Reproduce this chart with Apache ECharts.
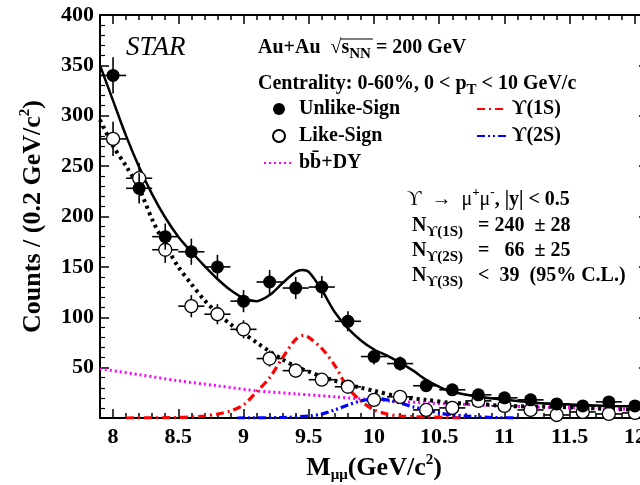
<!DOCTYPE html>
<html>
<head>
<meta charset="utf-8" />
<title>Upsilon mass spectrum</title>
<script src="https://cdn.jsdelivr.net/npm/echarts@6/dist/echarts.min.js"></script>
<style>
  html, body { margin: 0; padding: 0; background: #fff; }
  #main { width: 640px; height: 485px; }
</style>
</head>
<body>
<div id="main"></div>
<script type="text/javascript">
// bin centres (GeV/c^2), 0.2 GeV wide
var massBins = [8.0, 8.2, 8.4, 8.6, 8.8, 9.0, 9.2, 9.4, 9.6, 9.8, 10.0, 10.2, 10.4, 10.6, 10.8, 11.0, 11.2, 11.4, 11.6, 11.8, 12.0];
var unlikeCounts = [340, 228, 180, 165, 150, 116, 135, 129, 130, 96, 61, 54, 32, 28, 23, 20, 18, 14, 12, 16, 12];
var unlikeErr = [18, 15, 13, 13, 12, 11, 12, 11, 11, 10, 8, 7, 6, 5, 5, 4, 4, 4, 3, 4, 3];
var likeCounts = [277, 238, 167, 111, 103, 88, 59, 47, 38, 31, 18, 21, 8, 10, 17, 12, 8, 3, 6, 4, 5];
var likeErr = [17, 15, 13, 11, 10, 9, 8, 7, 6, 6, 4, 5, 3, 3, 4, 4, 3, 2, 2, 2, 2];

// fitted curves as [mass, counts]
var unlikeFit = [[7.9, 350], [8.0, 315], [8.1, 280], [8.2, 249], [8.3, 222], [8.4, 199], [8.5, 180], [8.6, 165],
  [8.7, 151], [8.8, 138], [8.9, 127], [9.0, 119], [9.1, 116], [9.2, 122], [9.3, 134], [9.4, 145], [9.45, 147],
  [9.5, 145], [9.6, 127], [9.7, 105], [9.8, 89], [9.9, 77], [10.0, 68], [10.1, 62], [10.2, 55], [10.3, 47],
  [10.4, 38], [10.5, 31], [10.6, 26], [10.8, 21], [11.0, 18], [11.2, 15.5], [11.4, 14], [11.6, 13], [11.8, 12], [12.1, 11]];
var likeFit = [[7.9, 296], [8.0, 270], [8.1, 250], [8.2, 228], [8.3, 197], [8.4, 172], [8.5, 150], [8.6, 133],
  [8.7, 117], [8.8, 104], [8.9, 93], [9.0, 84], [9.1, 75], [9.2, 66], [9.3, 58], [9.4, 51], [9.5, 46], [9.6, 41],
  [9.7, 37], [9.8, 33], [9.9, 30], [10.0, 27], [10.2, 21], [10.4, 18], [10.6, 15], [10.8, 14], [11.0, 12],
  [11.4, 11], [11.8, 9], [12.1, 8]];
var bbDY = [[7.9, 49], [8.2, 43], [8.5, 37], [8.8, 32], [9.1, 27], [9.4, 24], [9.7, 21], [10.0, 18], [10.4, 15],
  [10.8, 13], [11.2, 11], [11.6, 10], [12.1, 8]];
var ups1S = [[8.1, 0], [8.5, 0.5], [8.7, 2], [8.8, 4], [8.9, 7], [9.0, 13], [9.1, 26], [9.2, 40], [9.3, 60],
  [9.4, 78], [9.46, 82], [9.5, 80], [9.6, 69], [9.7, 52], [9.8, 30], [9.9, 17], [10.0, 8], [10.1, 4],
  [10.2, 2], [10.4, 1], [10.7, 0]];
var ups2S = [[8.95, 0], [9.3, 0.5], [9.5, 2], [9.6, 4], [9.7, 8], [9.8, 13], [9.9, 17], [10.0, 19], [10.05, 19],
  [10.1, 18], [10.2, 15], [10.3, 11], [10.4, 8], [10.5, 5], [10.6, 3], [10.7, 2], [10.9, 0.5], [11.1, 0]];

// axis ticks
var xMajor = [8, 8.5, 9, 9.5, 10, 10.5, 11, 11.5, 12];
var xMinor = [7.9, 8.0, 8.1, 8.2, 8.3, 8.4, 8.5, 8.6, 8.7, 8.8, 8.9, 9.0, 9.1, 9.2, 9.3, 9.4, 9.5, 9.6, 9.7, 9.8,
  9.9, 10.0, 10.1, 10.2, 10.3, 10.4, 10.5, 10.6, 10.7, 10.8, 10.9, 11.0, 11.1, 11.2, 11.3, 11.4, 11.5, 11.6,
  11.7, 11.8, 11.9, 12.0];

var serif = '"Liberation Serif", "DejaVu Serif", serif';
var chart = echarts.init(document.getElementById('main'));

function pairs(xs, ys, es) {
  var out = [];
  for (var i = 0; i < xs.length; i++) out.push([xs[i], ys[i], es[i]]);
  return out;
}

function errRender(params, api) {
  var x = api.value(0), y = api.value(1), e = api.value(2);
  var top = api.coord([x, y + e]);
  var bot = api.coord([x, Math.max(y - e, 0)]);
  var l = api.coord([x - 0.1, y]);
  var r = api.coord([x + 0.1, y]);
  var st = { stroke: '#000', lineWidth: 1.6 };
  return {
    type: 'group',
    children: [
      { type: 'line', shape: { x1: top[0], y1: top[1], x2: bot[0], y2: bot[1] }, style: st },
      { type: 'line', shape: { x1: l[0], y1: l[1], x2: r[0], y2: r[1] }, style: st }
    ]
  };
}

function xAx(pos, ticks, len, showLine, showLabel) {
  return {
    type: 'value', position: pos, min: 7.9, max: 12.1, gridIndex: 0,
    axisLine: { show: showLine, onZero: false, lineStyle: { color: '#000', width: 2 } },
    axisTick: { show: true, inside: true, length: len, customValues: ticks, lineStyle: { color: '#000', width: 1.5 } },
    axisLabel: {
      show: showLabel, customValues: xMajor, margin: 8,
      fontFamily: serif, fontWeight: 'bold', fontSize: 22, color: '#000'
    },
    splitLine: { show: false }
  };
}

function yAx(pos, showLabel) {
  return {
    type: 'value', position: pos, min: 0, max: 400, interval: 50,
    axisLine: { show: true, onZero: false, lineStyle: { color: '#000', width: 2 } },
    axisTick: { show: true, inside: true, length: 9, lineStyle: { color: '#000', width: 1.5 } },
    minorTick: { show: true, splitNumber: 5, length: 5, lineStyle: { color: '#000', width: 1.2 } },
    axisLabel: {
      show: showLabel, margin: 6, fontFamily: serif, fontWeight: 'bold', fontSize: 22, color: '#000',
      formatter: function (v) { return v === 0 ? '' : v; }
    },
    splitLine: { show: false }
  };
}

var xMain = xAx('bottom', xMajor, 9, true, true);
xMain.name = '{a|M}{s|μμ}{a|(GeV/c}{p|2}{a|)}';
xMain.nameLocation = 'middle';
xMain.nameGap = 28;
xMain.nameTextStyle = {
  rich: {
    a: { fontFamily: serif, fontWeight: 'bold', fontSize: 26, color: '#000', lineHeight: 30 },
    s: { fontFamily: serif, fontWeight: 'bold', fontSize: 15, color: '#000', verticalAlign: 'bottom', lineHeight: 30 },
    p: { fontFamily: serif, fontWeight: 'bold', fontSize: 15, color: '#000', verticalAlign: 'top', lineHeight: 30 }
  }
};

var yMain = yAx('left', true);
yMain.name = '{a|Counts / (0.2 GeV/c}{p|2}{a|)}';
yMain.nameLocation = 'middle';
yMain.nameGap = 52;
yMain.nameRotate = 90;
yMain.nameTextStyle = {
  rich: {
    a: { fontFamily: serif, fontWeight: 'bold', fontSize: 26, color: '#000', lineHeight: 30 },
    p: { fontFamily: serif, fontWeight: 'bold', fontSize: 15, color: '#000', verticalAlign: 'top', lineHeight: 30 }
  }
};

var rich = {
  b: { fontFamily: serif, fontWeight: 'bold', fontSize: 20, color: '#000', lineHeight: 28 },
  r: { fontFamily: serif, fontSize: 20, color: '#000', lineHeight: 28 },
  sub: { fontFamily: serif, fontWeight: 'bold', fontSize: 15, color: '#000', lineHeight: 28, verticalAlign: 'bottom' },
  sup: { fontFamily: serif, fontWeight: 'bold', fontSize: 13, color: '#000', lineHeight: 28, verticalAlign: 'top' }
};
var legendText = { fontFamily: serif, fontWeight: 'bold', fontSize: 20, color: '#000', lineHeight: 19 };

var option = {
  backgroundColor: '#fff',
  animation: false,
  grid: { left: 100, top: 15, width: 548, height: 403, outerBoundsMode: 'none', containLabel: false },
  xAxis: [xMain, xAx('bottom', xMinor, 5, false, false), xAx('top', xMajor, 9, true, false), xAx('top', xMinor, 5, false, false)],
  yAxis: [yMain, yAx('right', false)],
  legend: [{
    orient: 'vertical', left: 258, top: 94, itemWidth: 30, itemHeight: 12, itemGap: 7,
    textStyle: legendText,
    data: ['Unlike-Sign', 'Like-Sign', { name: 'bb\u0304+DY', itemStyle: { opacity: 0 } }]
  }, {
    orient: 'vertical', left: 471, top: 94, itemWidth: 30, itemHeight: 12, itemGap: 7,
    textStyle: legendText,
    data: [{ name: '\u03d2(1S)', itemStyle: { opacity: 0 } }, { name: '\u03d2(2S)', itemStyle: { opacity: 0 } }]
  }],
  graphic: [
    { type: 'text', left: 126, top: 34, style: { text: 'STAR', font: 'italic 27px ' + serif, fill: '#000' } },
    { type: 'text', left: 258, top: 38, style: { text: '{b|Au+Au  \u221A}{b|s}{sub|NN}{b| = 200 GeV}', rich: rich } },
    { type: 'line', shape: { x1: 341, y1: 39, x2: 373, y2: 39 }, style: { stroke: '#000', lineWidth: 1 } },
    { type: 'text', left: 258, top: 74, style: { text: '{b|Centrality: 0-60%, 0 < p}{sub|T}{b| < 10 GeV/c}', rich: rich } },
    { type: 'text', left: 407, top: 186, style: { text: '{r|\u03d2  \u2192  \u03bc}{sup|+}{r|\u03bc}{sup|-}{b|, |y| < 0.5}', rich: rich } },
    { type: 'text', left: 412, top: 216, style: { text: '{b|N}{sub|\u03d2(1S)}{b|   = 240  \u00b1 28}', rich: rich } },
    { type: 'text', left: 412, top: 241, style: { text: '{b|N}{sub|\u03d2(2S)}{b|   =   66  \u00b1 25}', rich: rich } },
    { type: 'text', left: 412, top: 266, style: { text: '{b|N}{sub|\u03d2(3S)}{b|   <  39  (95% C.L.)}', rich: rich } }
  ],
  series: [
    {
      name: 'bb\u0304+DY', type: 'line', data: bbDY, smooth: 0.3, symbol: 'none',
      lineStyle: { color: '#ff00ff', width: 3, type: [2, 3] }, itemStyle: { color: '#ff00ff' }
    },
    {
      name: '\u03d2(1S)', type: 'line', data: ups1S, smooth: 0.3, symbol: 'none',
      lineStyle: { color: '#ff0000', width: 3.2, type: [8, 4, 2, 4] }, itemStyle: { color: '#ff0000' }
    },
    {
      name: '\u03d2(2S)', type: 'line', data: ups2S, smooth: 0.3, symbol: 'none',
      lineStyle: { color: '#0000ff', width: 3.2, type: [8, 3, 2, 3, 2, 3] }, itemStyle: { color: '#0000ff' }
    },
    {
      name: 'likeFit', type: 'line', data: likeFit, smooth: 0.3, symbol: 'none',
      lineStyle: { color: '#000', width: 4, type: [3, 4] }
    },
    {
      name: 'unlikeFit', type: 'line', data: unlikeFit, smooth: 0.3, symbol: 'none',
      lineStyle: { color: '#000', width: 2.5 }
    },
    { name: 'likeErr', type: 'custom', renderItem: errRender, data: pairs(massBins, likeCounts, likeErr), z: 3 },
    {
      name: 'Like-Sign', type: 'scatter', data: pairs(massBins, likeCounts, likeErr), symbol: 'circle', symbolSize: 13,
      itemStyle: { color: '#fff', borderColor: '#000', borderWidth: 1.3, opacity: 1 }, z: 4
    },
    { name: 'unlikeErr', type: 'custom', renderItem: errRender, data: pairs(massBins, unlikeCounts, unlikeErr), z: 5 },
    {
      name: 'Unlike-Sign', type: 'scatter', data: pairs(massBins, unlikeCounts, unlikeErr), symbol: 'circle', symbolSize: 13,
      itemStyle: { color: '#000', opacity: 1 }, z: 6
    }
  ]
};
chart.setOption(option);
</script>
</body>
</html>
